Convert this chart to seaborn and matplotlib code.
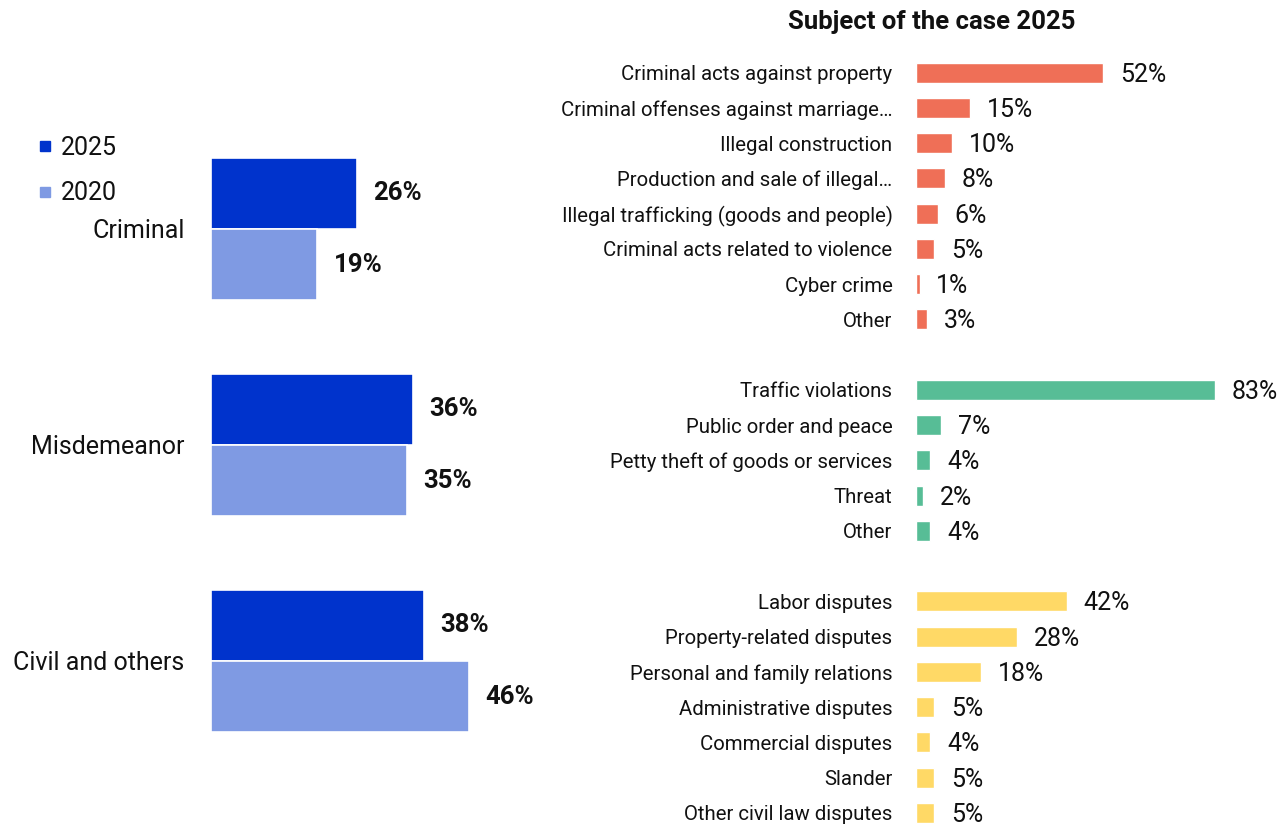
import matplotlib
matplotlib.use("Agg")
import matplotlib.pyplot as plt
import seaborn as sns
import pandas as pd
from matplotlib.lines import Line2D

# Overall split of cases by type
case_types = ["Criminal", "Misdemeanor", "Civil and others"]
years = ["2025", "2020"]
share_2025 = [26, 36, 38]
share_2020 = [19, 35, 46]

# Subject breakdown for 2025
criminal_subjects = [
    "Criminal acts against property",
    "Criminal offenses against marriage…",
    "Illegal construction",
    "Production and sale of illegal…",
    "Illegal trafficking (goods and people)",
    "Criminal acts related to violence",
    "Cyber crime",
    "Other",
]
criminal_share = [52, 15, 10, 8, 6, 5, 1, 3]

misdemeanor_subjects = [
    "Traffic violations",
    "Public order and peace",
    "Petty theft of goods or services",
    "Threat",
    "Other",
]
misdemeanor_share = [83, 7, 4, 2, 4]

civil_subjects = [
    "Labor disputes",
    "Property-related disputes",
    "Personal and family relations",
    "Administrative disputes",
    "Commercial disputes",
    "Slander",
    "Other civil law disputes",
]
civil_share = [42, 28, 18, 5, 4, 5, 5]

year_colors = {"2025": "#0033CC", "2020": "#7F9AE3"}
group_colors = {"Criminal": "#EF6F57", "Misdemeanor": "#57BD96", "Civil and others": "#FFD966"}
text_color = "#111111"

sns.set_theme(style="white")
plt.rcParams["font.family"] = ["Roboto", "DejaVu Sans"]
plt.rcParams["text.color"] = text_color

W, H = 1282, 827
fig = plt.figure(figsize=(W / 100, H / 100), dpi=100)


def px_axes(left, top, width, height):
    return fig.add_axes([left / W, 1 - (top + height) / H, width / W, height / H])


# ---- left: case type by year ----
overview = pd.DataFrame({
    "case_type": case_types * 2,
    "year": [years[0]] * 3 + [years[1]] * 3,
    "share": share_2025 + share_2020,
})

axL = px_axes(211, 121, 280, 648)
sns.barplot(data=overview, x="share", y="case_type", hue="year",
            order=case_types, hue_order=years, palette=year_colors, saturation=1,
            orient="h", width=0.66, edgecolor="white", linewidth=1.2,
            legend=False, ax=axL)
axL.set_xlim(0, 50)
axL.set_ylim(2.5, -0.5)
for container, year in zip(axL.containers, years):
    vals = overview.loc[overview["year"] == year, "share"].tolist()
    axL.bar_label(container, labels=[f"{v}%" for v in vals], padding=12,
                  fontsize=18.5, fontweight="bold", color=text_color)
axL.set_xlabel("")
axL.set_ylabel("")
axL.set_xticks([])
axL.tick_params(axis="y", length=0, pad=19, labelsize=18, labelcolor=text_color)
sns.despine(ax=axL, left=True, bottom=True)

handles = [Line2D([], [], marker="s", ls="", color=year_colors[y], markersize=7.5) for y in years]
fig.legend(handles=handles, labels=years, loc="upper left",
           bbox_to_anchor=(26 / W, 1 - 126 / H), frameon=False, fontsize=18,
           handlelength=0.7, handletextpad=0.3, labelspacing=0.85, borderaxespad=0)

# ---- right: subjects of 2025 cases ----
groups = (["Criminal"] * len(criminal_subjects)
          + ["Misdemeanor"] * len(misdemeanor_subjects)
          + ["Civil and others"] * len(civil_subjects))
subjects = criminal_subjects + misdemeanor_subjects + civil_subjects
shares = criminal_share + misdemeanor_share + civil_share
rows = (list(range(0, 8)) + list(range(9, 14)) + list(range(15, 22)))
detail = pd.DataFrame({"row": rows, "subject": subjects, "share": shares, "group": groups})

axR = px_axes(916, 55, 360, 772)
sns.barplot(data=detail, x="share", y="row", hue="group", palette=group_colors, saturation=1,
            orient="h", native_scale=True, dodge=False, width=0.57,
            legend=False, ax=axR)
axR.set_xlim(0, 100)
axR.set_ylim(21.4, -0.5)
axR.set_yticks(detail["row"], labels=detail["subject"])
axR.tick_params(axis="y", length=0, pad=17, labelsize=14.7, labelcolor=text_color)
axR.set_xticks([])
axR.set_xlabel("")
axR.set_ylabel("")
sns.despine(ax=axR, left=True, bottom=True)
for r, v in zip(detail["row"], detail["share"]):
    axR.annotate(f"{v}%", xy=(v, r), xytext=(12, -1.5), textcoords="offset points",
                 va="center", ha="left", fontsize=18, color=text_color,
                 annotation_clip=False)

fig.text(932 / W, 1 - 22 / H, "Subject of the case 2025", ha="center", va="center",
         fontsize=18.5, fontweight="bold", color=text_color)

fig.savefig("out.png", dpi=100)
